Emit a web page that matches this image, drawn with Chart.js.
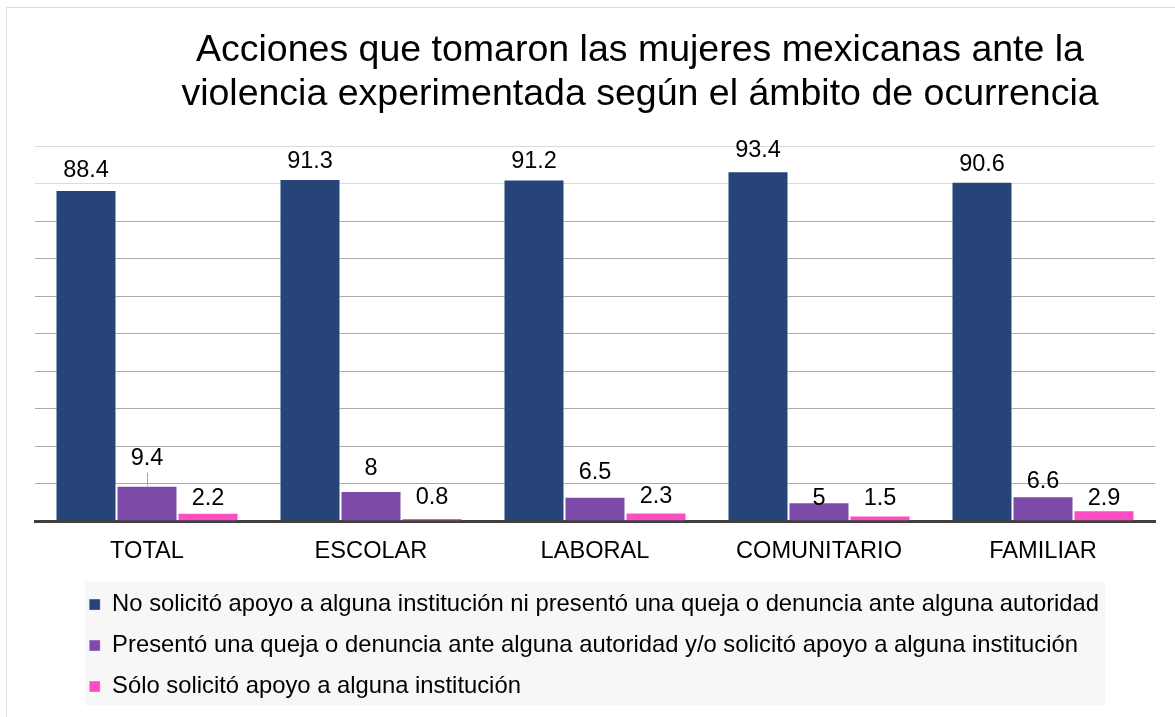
<!DOCTYPE html>
<html>
<head>
<meta charset="utf-8">
<script src="https://cdn.jsdelivr.net/npm/chart.js@4.4.0/dist/chart.umd.min.js"></script>
<style>
  html, body { margin: 0; padding: 0; background: #ffffff; }
  #wrap { width: 1175px; height: 717px; position: relative; }
</style>
</head>
<body>
<div id="wrap"><canvas id="chart" width="1175" height="717"></canvas></div>
<script>
// Ámbitos de ocurrencia
const categories = ['TOTAL', 'ESCOLAR', 'LABORAL', 'COMUNITARIO', 'FAMILIAR'];

// Series names
const seriesNames = [
  'No solicitó apoyo a alguna institución ni presentó una queja o denuncia ante alguna autoridad',
  'Presentó una queja o denuncia ante alguna autoridad y/o solicitó apoyo a alguna institución',
  'Sólo solicitó apoyo a alguna institución'
];

// Percentages per ámbito
const noSolicito    = [88.4, 91.3, 91.2, 93.4, 90.6];
const presentoQueja = [9.4, 8, 6.5, 5, 6.6];
const soloApoyo     = [2.2, 0.8, 2.3, 1.5, 2.9];

// Value axis range
const yMin = 0;
const yMax = 100;
const yStep = 10;

const FONT = '"Liberation Sans", Arial, Helvetica, sans-serif';
const seriesColors = ['#264478', '#7e4aa9', '#fd4dc2'];

// Vertical nudges (px) applied to individual value labels so they don't collide
const labelNudge = [
  [-2, 0, 0, -3, 0],
  [-10, -5, -7, 14, 3],
  [3, -3, 2, 1, 6]
];

// Value labels above each bar, with a short leader line when a label is lifted far away
const valueLabels = {
  id: 'valueLabels',
  afterDraw(chart) {
    const ctx = chart.ctx;
    ctx.save();
    ctx.font = '23.5px ' + FONT;
    ctx.fillStyle = '#000000';
    ctx.textAlign = 'center';
    ctx.textBaseline = 'alphabetic';
    chart.data.datasets.forEach((ds, di) => {
      const meta = chart.getDatasetMeta(di);
      meta.data.forEach((bar, i) => {
        const baseline = bar.y - 11 + labelNudge[di][i];
        ctx.fillText(String(ds.data[i]), bar.x, baseline);
        if (bar.y - baseline > 19) {
          ctx.strokeStyle = '#a6a6a6';
          ctx.lineWidth = 1;
          ctx.beginPath();
          ctx.moveTo(Math.round(bar.x) + 0.5, baseline + 8);
          ctx.lineTo(Math.round(bar.x) + 0.5, bar.y);
          ctx.stroke();
        }
      });
    });
    ctx.restore();
  }
};

// Frame, legend panel and title/legend placement
const decorations = {
  id: 'decorations',
  afterLayout(chart) {
    const t = chart.titleBlock;
    t.left += 45; t.right += 45;
    const lg = chart.legend;
    lg.left += 37; lg.right += 37;
    lg.top += 2; lg.bottom += 2;
  },
  beforeDraw(chart) {
    const ctx = chart.ctx;
    ctx.save();
    ctx.fillStyle = '#ffffff';
    ctx.fillRect(0, 0, chart.width, chart.height);
    // outer frame
    ctx.strokeStyle = '#dcdcdc';
    ctx.lineWidth = 1;
    ctx.beginPath();
    ctx.moveTo(6.5, chart.height);
    ctx.lineTo(6.5, 7.5);
    ctx.lineTo(chart.width, 7.5);
    ctx.stroke();
    // legend panel
    const lg = chart.legend;
    ctx.fillStyle = '#f7f7f7';
    ctx.fillRect(lg.left + 13, lg.top + 6, 1020, lg.bottom - lg.top - 9);
    ctx.restore();
  }
};

new Chart(document.getElementById('chart'), {
  type: 'bar',
  data: {
    labels: categories,
    datasets: [
      { label: seriesNames[0], data: noSolicito,    backgroundColor: seriesColors[0] },
      { label: seriesNames[1], data: presentoQueja, backgroundColor: seriesColors[1] },
      { label: seriesNames[2], data: soloApoyo,     backgroundColor: seriesColors[2] }
    ]
  },
  options: {
    responsive: false,
    animation: false,
    events: [],
    datasets: {
      bar: {
        categoryPercentage: 0.817,
        barPercentage: 1.0,
        borderWidth: 1,
        borderColor: 'rgba(255,255,255,0.35)'
      }
    },
    layout: { padding: { left: 35, right: 20, top: 0, bottom: 10.5 } },
    scales: {
      x: {
        z: 1,
        grid: { display: false, drawTicks: false },
        border: { display: true, color: '#404040', width: 3 },
        ticks: { color: '#000000', padding: 16, font: { family: FONT, size: 23.6 } },
        afterFit(scale) { scale.height = 52.5; }
      },
      y: {
        z: 1,
        min: yMin,
        max: yMax,
        ticks: { display: false, stepSize: yStep },
        grid: {
          drawTicks: false,
          lineWidth: 1,
          color: (c) => (c.tick && c.tick.value >= 90) ? 'rgba(0,0,0,0.14)' : 'rgba(0,0,0,0.33)'
        },
        border: { display: false }
      }
    },
    plugins: {
      title: {
        display: true,
        text: ['Acciones que tomaron las mujeres mexicanas ante la',
               'violencia experimentada según el ámbito de ocurrencia'],
        color: '#000000',
        font: { family: FONT, size: 37.5, weight: 'normal', lineHeight: 1.16 },
        padding: { top: 29, bottom: 30.5 }
      },
      legend: {
        display: true,
        position: 'bottom',
        align: 'start',
        labels: {
          color: '#000000',
          font: { family: FONT, size: 23.8 },
          boxWidth: 11,
          boxHeight: 11,
          padding: 17.2
        }
      },
      tooltip: { enabled: false }
    }
  },
  plugins: [decorations, valueLabels]
});
</script>
</body>
</html>
